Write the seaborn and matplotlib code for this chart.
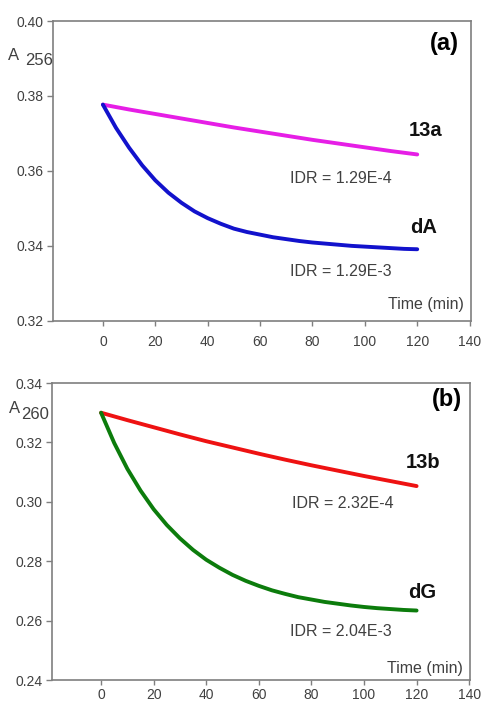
import numpy as np
import pandas as pd
import matplotlib
matplotlib.use("Agg")
import matplotlib.pyplot as plt
import seaborn as sns

# ── data ─────────────────────────────────────────────────
t_slow = [0, 10, 20, 30, 40, 50, 60, 70, 80, 90, 100, 110, 120]
t_fast = [0, 5, 10, 15, 20, 25, 30, 35, 40, 45, 50, 55, 60,
          65, 70, 75, 80, 85, 90, 95, 100, 105, 110, 115, 120]

a_13a = [0.3777, 0.3764, 0.3752, 0.3740, 0.3728, 0.3716, 0.3705,
         0.3694, 0.3683, 0.3673, 0.3663, 0.3653, 0.3644]
a_dA = [0.3777, 0.3715, 0.3662, 0.3615, 0.3575, 0.3542, 0.3515, 0.3492,
        0.3474, 0.3459, 0.3446, 0.3437, 0.3430, 0.3423, 0.3418, 0.3413,
        0.3409, 0.3406, 0.3403, 0.3400, 0.3398, 0.3396, 0.3394, 0.3392, 0.3391]

b_13b = [0.3300, 0.3275, 0.3251, 0.3227, 0.3204, 0.3183, 0.3162,
         0.3142, 0.3123, 0.3105, 0.3087, 0.3070, 0.3053]
b_dG = [0.3300, 0.3198, 0.3111, 0.3038, 0.2975, 0.2922, 0.2877, 0.2838,
        0.2805, 0.2778, 0.2754, 0.2734, 0.2717, 0.2702, 0.2690, 0.2679,
        0.2671, 0.2663, 0.2657, 0.2651, 0.2646, 0.2642, 0.2639, 0.2636, 0.2634]

x_ticks = [0, 20, 40, 60, 80, 100, 120, 140]
a_yticks = [0.32, 0.34, 0.36, 0.38, 0.40]
b_yticks = [0.24, 0.26, 0.28, 0.30, 0.32, 0.34]

sns.set_theme(style="white")
plt.rcParams['font.family'] = ['Liberation Sans', 'DejaVu Sans']

fig = plt.figure(figsize=(4.83, 7.02), dpi=100)
ax_a = fig.add_axes([0.110, 0.543, 0.865, 0.427])
ax_b = fig.add_axes([0.108, 0.0313, 0.865, 0.4231])

GRAY = "#7f7f7f"
TXT = "#404040"


def style_axis(ax, yticks, ylim, xlim, xpad):
    ax.set_xlim(*xlim)
    ax.set_ylim(*ylim)
    ax.set_xticks(x_ticks)
    ax.set_yticks(yticks)
    ax.set_yticklabels([f"{v:.2f}" for v in yticks])
    for sp in ax.spines.values():
        sp.set_color(GRAY)
        sp.set_linewidth(1.2)
    ax.tick_params(axis="x", direction="out", length=3.5, width=1, color=GRAY,
                   labelsize=10, labelcolor=TXT, pad=xpad, bottom=True)
    ax.tick_params(axis="y", direction="out", length=4, width=1, color=GRAY,
                   labelsize=10, labelcolor=TXT, pad=3, left=True)
    ax.set_xlabel("")
    ax.set_ylabel("")
    if ax.get_legend() is not None:
        ax.get_legend().remove()


# ── panel (a) ─────────────────────────────────────────────
df_a1 = pd.DataFrame({"t": t_slow, "A": a_13a})
df_a2 = pd.DataFrame({"t": t_fast, "A": a_dA})
sns.lineplot(data=df_a1, x="t", y="A", ax=ax_a, color="#e61ee6", lw=2.8)
sns.lineplot(data=df_a2, x="t", y="A", ax=ax_a, color="#1212cc", lw=2.8)
style_axis(ax_a, a_yticks, (0.32, 0.40), (-19, 140.5), 6.5)

ax_a.text(130.5, 0.3941, "(a)", ha="center", va="center", fontsize=17, fontweight="bold", color="black")
ax_a.text(123.3, 0.3709, "13a", ha="center", va="center", fontsize=14.5, fontweight="bold", color="#111111")
ax_a.text(122.5, 0.3448, "dA", ha="center", va="center", fontsize=14.5, fontweight="bold", color="#111111")
ax_a.text(90.8, 0.3581, "IDR = 1.29E-4", ha="center", va="center", fontsize=11.5, color=TXT)
ax_a.text(90.8, 0.3331, "IDR = 1.29E-3", ha="center", va="center", fontsize=11.5, color=TXT)
ax_a.text(137.8, 0.3243, "Time (min)", ha="right", va="center", fontsize=11.5, color=TXT)

fig.text(0.029, 0.921, "A", ha="center", va="center", fontsize=12, color=TXT)
fig.text(0.052, 0.9135, "256", ha="left", va="center", fontsize=12, color=TXT)

# ── panel (b) ─────────────────────────────────────────────
df_b1 = pd.DataFrame({"t": t_slow, "A": b_13b})
df_b2 = pd.DataFrame({"t": t_fast, "A": b_dG})
sns.lineplot(data=df_b1, x="t", y="A", ax=ax_b, color="#ee1212", lw=2.8)
sns.lineplot(data=df_b2, x="t", y="A", ax=ax_b, color="#0c7c0c", lw=2.8)
style_axis(ax_b, b_yticks, (0.24, 0.34), (-18.6, 140.3), 2.0)

ax_b.text(131.6, 0.3343, "(b)", ha="center", va="center", fontsize=17, fontweight="bold", color="black")
ax_b.text(122.4, 0.3131, "13b", ha="center", va="center", fontsize=14.5, fontweight="bold", color="#111111")
ax_b.text(122.0, 0.2696, "dG", ha="center", va="center", fontsize=14.5, fontweight="bold", color="#111111")
ax_b.text(92.0, 0.2996, "IDR = 2.32E-4", ha="center", va="center", fontsize=11.5, color=TXT)
ax_b.text(91.3, 0.2562, "IDR = 2.04E-3", ha="center", va="center", fontsize=11.5, color=TXT)
ax_b.text(137.6, 0.2440, "Time (min)", ha="right", va="center", fontsize=11.5, color=TXT)

fig.text(0.031, 0.418, "A", ha="center", va="center", fontsize=12, color=TXT)
fig.text(0.0445, 0.410, "260", ha="left", va="center", fontsize=12, color=TXT)

fig.savefig("out.png", dpi=100)
